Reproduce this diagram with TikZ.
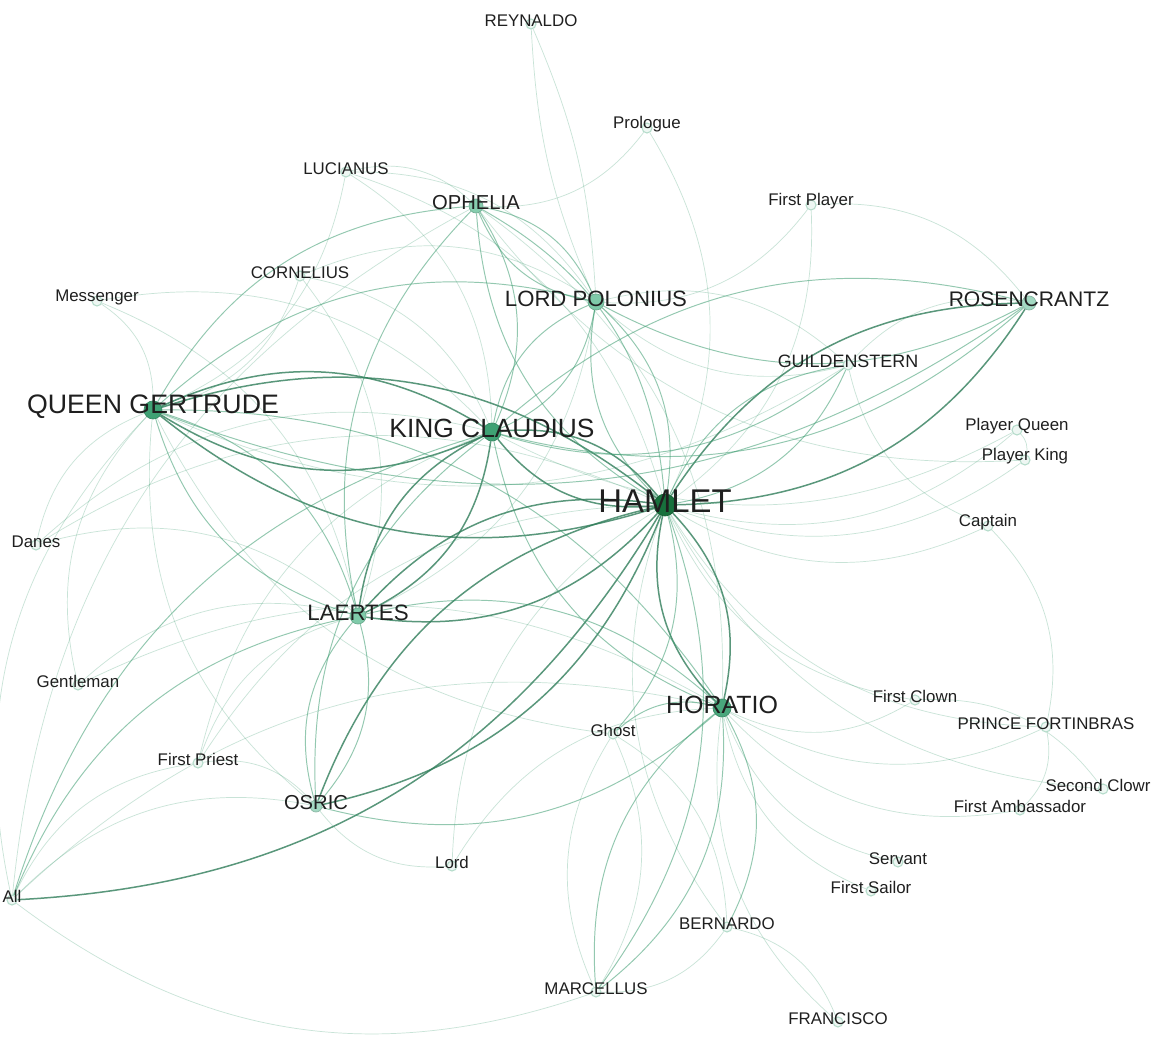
\documentclass[tikz,border=0pt]{standalone}
\usepackage{fontspec}
\setmainfont{Liberation Sans}
\usetikzlibrary{backgrounds}
\definecolor{hamgreen}{HTML}{17703C}
\definecolor{midgreen}{HTML}{3FA174}
\definecolor{palegreen}{HTML}{7FCAA9}
\definecolor{leafgreen}{HTML}{A3D9C2}
\definecolor{smallfill}{HTML}{EEF7F3}
\definecolor{smallrim}{HTML}{B5DCCB}
\definecolor{linkgreen}{HTML}{3C9C70}
\begin{document}
\begin{tikzpicture}[x=0.02cm, y=-0.02cm,
    nd/.style n args={2}{circle, inner sep=0pt, minimum size=#1*0.569pt, fill=#2, draw=#2!85!black, line width=0.4pt},
    sm/.style={circle, inner sep=0pt, minimum size=10*0.569pt, fill=smallfill, draw=smallrim, line width=0.6pt},
    lab/.style={font=\fontsize{#1}{#1}\selectfont, text=black!88, inner sep=0pt, yshift=0.07cm},
    lnk1/.style={draw=linkgreen, opacity=0.28, line width=0.4pt},
    lnk2/.style={draw=linkgreen, opacity=0.55, line width=0.55pt},
    lnk3/.style={draw=linkgreen!80!black, opacity=0.8, line width=0.85pt}]

    \useasboundingbox (0,0) rectangle (1161,1040);

    % main characters
    \node[nd={22}{hamgreen}, label={[lab=18.7]center:HAMLET}] (ham) at (665,505) {};
    \node[nd={18}{midgreen}, label={[lab=15.2]center:QUEEN GERTRUDE}] (qg) at (153,410) {};
    \node[nd={18}{midgreen}, label={[lab=15]center:KING CLAUDIUS}] (kc) at (492,432) {};
    \node[nd={18}{midgreen!85!palegreen}, label={[lab=14.2]center:HORATIO}] (hor) at (722,708) {};
    \node[nd={16}{palegreen}, label={[lab=12.6]center:LORD POLONIUS}] (pol) at (596,302) {};
    \node[nd={16}{palegreen}, label={[lab=12.7]center:LAERTES}] (lae) at (358,616) {};
    \node[nd={14}{leafgreen}, label={[lab=12]center:ROSENCRANTZ}] (ros) at (1029,303) {};
    \node[nd={14}{palegreen!80!leafgreen}, label={[lab=11.5]center:OPHELIA}] (oph) at (476,206) {};
    \node[nd={12}{leafgreen}, label={[lab=11.5]center:OSRIC}] (osr) at (316,806) {};
    \node[sm, label={[lab=10.2]center:GUILDENSTERN}] (gui) at (848,365) {};

    % minor characters
    \node[sm, label={[lab=9.6]center:REYNALDO}] (rey) at (531,24) {};
    \node[sm, label={[lab=9.6]center:Prologue}] (pro) at (647,128) {};
    \node[sm, label={[lab=9.6]center:LUCIANUS}] (luc) at (346,172) {};
    \node[sm, label={[lab=9.6]center:First Player}] (fpl) at (811,205) {};
    \node[sm, label={[lab=9.6]center:CORNELIUS}] (cor) at (300,276) {};
    \node[sm, label={[lab=9.6]center:Messenger}] (mes) at (97,301) {};
    \node[sm, label={[lab=9.6]center:Player Queen}] (pqu) at (1017,430) {};
    \node[sm, label={[lab=9.6]center:Player King}] (pki) at (1025,460) {};
    \node[sm, label={[lab=9.6]center:Captain}] (cap) at (988,526) {};
    \node[sm, label={[lab=9.6]center:Danes}] (dan) at (36,545) {};
    \node[sm, label={[lab=9.6]center:Gentleman}] (gen) at (78,685) {};
    \node[sm, label={[lab=9.6]center:First Clown}] (fcl) at (915,700) {};
    \node[sm, label={[lab=9.6]center:PRINCE FORTINBRAS}] (pfo) at (1046,727) {};
    \node[sm, label={[lab=9.6]center:Ghost}] (gho) at (613,734) {};
    \node[sm, label={[lab=9.6]center:First Priest}] (fpr) at (198,763) {};
    \node[sm, label={[lab=9.6,xshift=-0.1cm]center:Second Clowr}] (scl) at (1103,789) {};
    \node[sm, label={[lab=9.6]center:First Ambassador}] (fam) at (1020,810) {};
    \node[sm, label={[lab=9.6]center:Lord}] (lor) at (452,866) {};
    \node[sm, label={[lab=9.6]center:Servant}] (ser) at (898,862) {};
    \node[sm, label={[lab=9.6]center:First Sailor}] (fsa) at (871,891) {};
    \node[sm, label={[lab=9.6]center:All}] (all) at (12,900) {};
    \node[sm, label={[lab=9.6]center:BERNARDO}] (ber) at (727,927) {};
    \node[sm, label={[lab=9.6]center:MARCELLUS}] (mar) at (596,992) {};
    \node[sm, label={[lab=9.6]center:FRANCISCO}] (fra) at (838,1022) {};

    \begin{scope}[on background layer]
        \fill[white] (0,0) rectangle (1161,1040);
        % heavy links
        \foreach \a/\b in {ham/qg, qg/ham, ham/kc, kc/ham, ham/hor, hor/ham, ham/ros, ros/ham,
            ham/lae, lae/ham, osr/ham, ham/osr, ham/all, kc/qg, qg/kc, kc/lae, lae/kc}
            \draw[lnk3] (\a) to[bend left=28] (\b);
        % medium links
        \foreach \a/\b in {ham/pol, pol/ham, ham/oph, oph/ham, ham/gui, gui/ham, qg/lae, lae/qg,
            qg/pol, pol/kc, kc/pol, oph/pol, pol/oph, oph/kc, qg/oph, lae/oph, hor/mar, mar/hor,
            hor/kc, qg/hor, lae/hor, hor/osr, all/lae, all/kc, ros/kc, kc/ros, ros/qg, gui/kc,
            ros/pol, osr/lae, lae/osr, osr/kc, ham/gho, gho/hor, ham/mar, hor/ber}
            \draw[lnk2] (\a) to[bend left=28] (\b);
        % light links
        \foreach \a/\b in {pro/oph, pro/ham, luc/qg, luc/oph, luc/pol, luc/kc,
            luc/ham, fpl/ham, fpl/pol, fpl/ros, cor/kc, cor/qg, cor/pol, cor/lae, mes/qg, mes/kc,
            mes/lae, gui/ros, gui/qg, gui/pol, pqu/ham, pqu/pki, pki/ham, pqu/kc, pki/oph,
            cap/ham, cap/pfo, dan/qg, dan/kc, dan/lae, dan/ham, gen/qg, gen/hor, gen/lae, fcl/ham,
            fcl/hor, fcl/scl, pfo/hor, pfo/fam, pfo/ham, fam/hor, scl/ham, gho/mar, gho/ber,
            gho/qg, fpr/lae, fpr/kc, fpr/ham, fpr/osr, lor/ham, lor/osr, lor/hor, ser/hor, fsa/hor,
            all/qg, all/hor, all/osr, mar/all, all/oph, all/fpr, ber/mar, ber/fra, fra/hor, ber/ham,
            mar/gho, oph/hor, pol/lae, pol/gui, osr/qg, cap/gui}
            \draw[lnk1] (\a) to[bend left=28] (\b);
        \foreach \a/\b in {rey/pol, pol/rey}
            \draw[lnk1] (\a) to[bend left=10] (\b);
    \end{scope}

\end{tikzpicture}
\end{document}
